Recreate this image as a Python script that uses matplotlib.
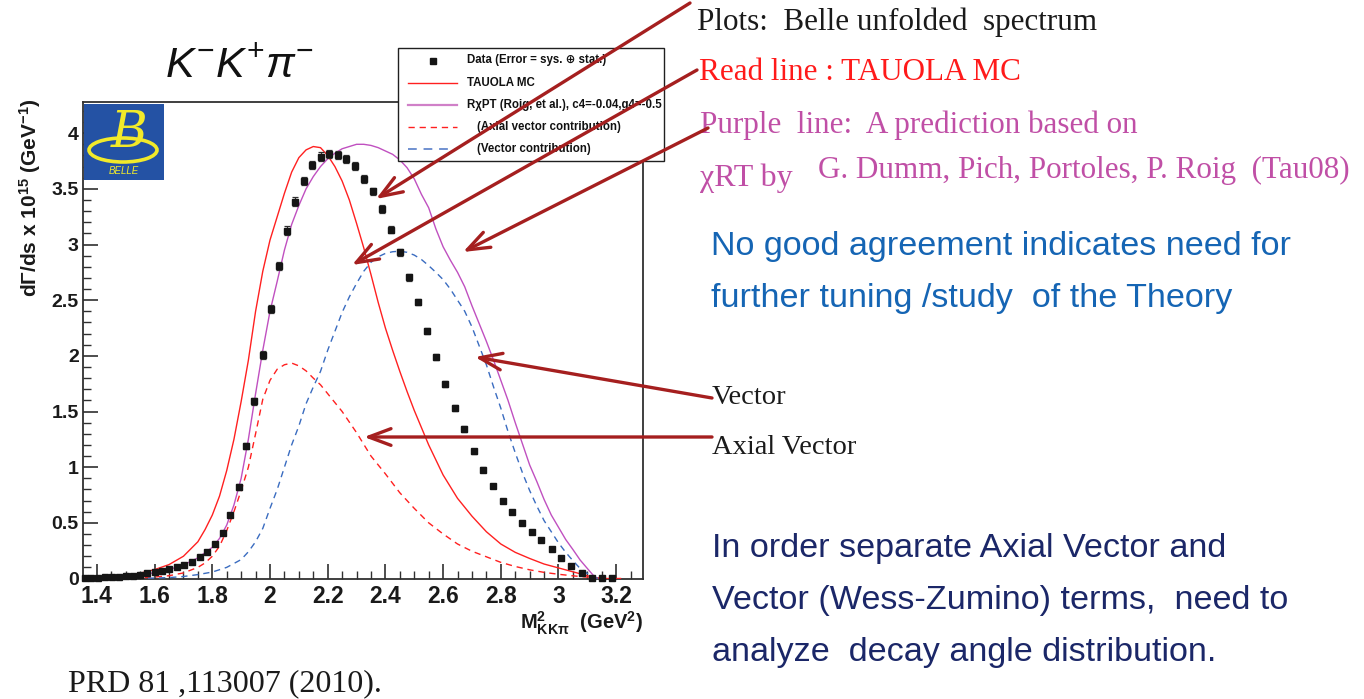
import numpy as np
import matplotlib
matplotlib.use("Agg")
import matplotlib.pyplot as plt
from matplotlib.lines import Line2D
from matplotlib.patches import Rectangle, Ellipse
from matplotlib.ticker import MultipleLocator, FuncFormatter

plt.rcParams['font.family'] = ['Liberation Sans', 'DejaVu Sans']
plt.rcParams['mathtext.fontset'] = 'custom'
plt.rcParams['mathtext.rm'] = 'Liberation Sans'
plt.rcParams['mathtext.it'] = 'Liberation Sans:italic'
plt.rcParams['mathtext.bf'] = 'Liberation Sans:bold'

# ---------------- data ----------------
data_x = [1.357, 1.381, 1.404, 1.428, 1.452, 1.476, 1.501, 1.525, 1.550, 1.575,
          1.600, 1.626, 1.651, 1.677, 1.703, 1.729, 1.756, 1.782, 1.809, 1.836,
          1.863, 1.891, 1.918, 1.946, 1.974, 2.002, 2.031, 2.059, 2.088, 2.117,
          2.146, 2.176, 2.205, 2.235, 2.265, 2.295, 2.326, 2.356, 2.387, 2.418,
          2.449, 2.481, 2.512, 2.544, 2.576, 2.608, 2.641, 2.673, 2.706, 2.739,
          2.772, 2.806, 2.839, 2.873, 2.907, 2.941, 2.976, 3.010, 3.045, 3.080,
          3.115, 3.151, 3.186]
data_y = [0.005, 0.008, 0.008, 0.010, 0.012, 0.015, 0.018, 0.025, 0.034, 0.046,
          0.056, 0.070, 0.082, 0.100, 0.125, 0.150, 0.190, 0.235, 0.308, 0.408,
          0.572, 0.820, 1.190, 1.590, 2.005, 2.425, 2.805, 3.125, 3.385, 3.572,
          3.712, 3.790, 3.815, 3.803, 3.768, 3.705, 3.588, 3.477, 3.321, 3.133,
          2.929, 2.704, 2.485, 2.225, 1.988, 1.746, 1.535, 1.344, 1.143, 0.978,
          0.829, 0.697, 0.598, 0.502, 0.418, 0.346, 0.268, 0.187, 0.115, 0.049,
          0.005, 0.002, 0.002]
data_err = [0.003, 0.003, 0.003, 0.003, 0.003, 0.003, 0.004, 0.004, 0.005, 0.005,
            0.006, 0.006, 0.007, 0.008, 0.009, 0.010, 0.011, 0.012, 0.014, 0.016,
            0.020, 0.025, 0.030, 0.032, 0.035, 0.036, 0.037, 0.038, 0.038, 0.038,
            0.038, 0.038, 0.038, 0.038, 0.038, 0.037, 0.036, 0.035, 0.034, 0.033,
            0.032, 0.031, 0.030, 0.029, 0.028, 0.027, 0.026, 0.025, 0.024, 0.022,
            0.020, 0.018, 0.016, 0.014, 0.012, 0.010, 0.009, 0.008, 0.006, 0.005,
            0.004, 0.003, 0.003]

tauola_x = [1.352, 1.40, 1.45, 1.50, 1.55, 1.60, 1.65, 1.70, 1.75, 1.775, 1.80, 1.825,
            1.85, 1.875, 1.90, 1.925, 1.95, 1.975, 2.00, 2.025, 2.05, 2.075, 2.10,
            2.125, 2.15, 2.175, 2.20, 2.225, 2.25, 2.275, 2.30, 2.325, 2.35, 2.375,
            2.40, 2.425, 2.45, 2.475, 2.50, 2.55, 2.60, 2.65, 2.70, 2.75, 2.80,
            2.85, 2.90, 2.95, 3.00, 3.05, 3.10, 3.13, 3.16, 3.215]
tauola_y = [0.004, 0.008, 0.015, 0.028, 0.048, 0.080, 0.125, 0.200, 0.330, 0.440, 0.570, 0.740,
            0.970, 1.250, 1.590, 1.960, 2.400, 2.760, 3.040, 3.250, 3.460, 3.650, 3.780,
            3.850, 3.880, 3.870, 3.800, 3.700, 3.570, 3.400, 3.190, 2.970, 2.730, 2.480,
            2.250, 2.050, 1.860, 1.680, 1.510, 1.200, 0.930, 0.720, 0.560, 0.420, 0.310,
            0.235, 0.180, 0.130, 0.095, 0.060, 0.025, 0.006, 0.0, 0.0]

rxpt_x = [1.352, 1.40, 1.45, 1.50, 1.55, 1.60, 1.65, 1.70, 1.75, 1.80, 1.825, 1.85,
          1.875, 1.90, 1.925, 1.95, 1.975, 2.00, 2.025, 2.05, 2.075, 2.10, 2.125,
          2.15, 2.175, 2.20, 2.225, 2.25, 2.275, 2.30, 2.325, 2.35, 2.375, 2.40,
          2.425, 2.45, 2.475, 2.50, 2.525, 2.55, 2.575, 2.60, 2.625, 2.65, 2.675,
          2.70, 2.725, 2.75, 2.775, 2.80, 2.825, 2.85, 2.875, 2.90, 2.925, 2.95,
          2.975, 3.00, 3.025, 3.05, 3.075, 3.10, 3.12, 3.135]
rxpt_y = [0.003, 0.006, 0.011, 0.019, 0.032, 0.052, 0.080, 0.122, 0.185, 0.280, 0.360, 0.480,
          0.660, 0.900, 1.250, 1.660, 2.050, 2.400, 2.670, 2.950, 3.180, 3.350, 3.500,
          3.610, 3.700, 3.770, 3.820, 3.860, 3.880, 3.900, 3.900, 3.890, 3.870, 3.840,
          3.810, 3.760, 3.690, 3.590, 3.450, 3.330, 3.140, 2.980, 2.860, 2.750, 2.620,
          2.450, 2.290, 2.130, 1.960, 1.780, 1.600, 1.400, 1.210, 1.020, 0.870, 0.710,
          0.570, 0.460, 0.350, 0.260, 0.166, 0.090, 0.030, 0.0]

axial_x = [1.45, 1.55, 1.60, 1.65, 1.70, 1.75, 1.775, 1.80, 1.825, 1.85, 1.875, 1.90,
           1.925, 1.95, 1.975, 2.00, 2.025, 2.05, 2.075, 2.10, 2.125, 2.15, 2.175,
           2.20, 2.25, 2.30, 2.35, 2.40, 2.45, 2.50, 2.55, 2.60, 2.65, 2.70, 2.75,
           2.80, 2.85, 2.90, 2.95, 3.00, 3.05, 3.10, 3.15]
axial_y = [0.0, 0.006, 0.013, 0.025, 0.050, 0.100, 0.140, 0.200, 0.290, 0.430, 0.600, 0.790,
           1.000, 1.300, 1.610, 1.780, 1.880, 1.920, 1.935, 1.910, 1.865, 1.800, 1.740,
           1.660, 1.500, 1.310, 1.100, 0.940, 0.770, 0.630, 0.500, 0.400, 0.310, 0.245, 0.195,
           0.145, 0.108, 0.078, 0.055, 0.038, 0.024, 0.012, 0.002]

vector_x = [1.50, 1.60, 1.65, 1.70, 1.75, 1.80, 1.85, 1.90, 1.925, 1.95, 1.975, 2.00,
            2.025, 2.05, 2.075, 2.10, 2.125, 2.15, 2.175, 2.20, 2.225, 2.25, 2.275,
            2.30, 2.325, 2.35, 2.375, 2.40, 2.425, 2.45, 2.475, 2.50, 2.525, 2.55,
            2.575, 2.60, 2.625, 2.65, 2.675, 2.70, 2.725, 2.75, 2.775, 2.80, 2.825,
            2.85, 2.875, 2.90, 2.925, 2.95, 2.975, 3.00, 3.025, 3.05, 3.075, 3.10,
            3.125, 3.14]
vector_y = [0.0, 0.004, 0.008, 0.018, 0.035, 0.058, 0.100, 0.170, 0.240, 0.330, 0.450, 0.630,
            0.800, 1.000, 1.200, 1.370, 1.570, 1.720, 1.860, 2.050, 2.220, 2.390, 2.530,
            2.650, 2.760, 2.840, 2.890, 2.920, 2.935, 2.940, 2.930, 2.905, 2.865, 2.810,
            2.750, 2.685, 2.600, 2.500, 2.400, 2.260, 2.090, 1.920, 1.720, 1.530, 1.320,
            1.130, 0.950, 0.790, 0.650, 0.520, 0.420, 0.320, 0.235, 0.160, 0.090, 0.045,
            0.010, 0.0]

legend_labels = ["Data (Error = sys. \u2295 stat.)", "TAUOLA MC",
                 "R\u03c7PT (Roig, et al.), c4=-0.04,g4=-0.5",
                 "(Axial vector contribution)", "(Vector contribution)"]

# ---------------- figure ----------------
W, H = 1364, 699
fig = plt.figure(figsize=(W / 100, H / 100), dpi=100)
fig.patch.set_facecolor('white')

def fx(px):
    return px / W

def fy(py):
    return 1 - py / H

L, R, T, B = 83, 643, 102, 578.5
ax = fig.add_axes([fx(L), fy(B), (R - L) / W, (B - T) / H])
ax.set_xlim(1.3518, 3.2929)
ax.set_ylim(0, 4.28)

RED = '#ff2020'
PURP = '#c050c0'
BLUE = '#3a6cc0'

ax.plot(tauola_x, tauola_y, color=RED, lw=1.0, zorder=3)
ax.plot(rxpt_x, rxpt_y, color=PURP, lw=1.0, zorder=3)
ax.plot(axial_x, axial_y, color=RED, lw=1.0, dashes=(4.5, 3.5), zorder=3)
ax.plot(vector_x, vector_y, color=BLUE, lw=1.0, dashes=(4.5, 3.5), zorder=3)
eb = ax.errorbar(data_x, data_y, yerr=data_err, fmt='s', color='#151515', ms=5,
                 ecolor='#303030', elinewidth=0.9, capsize=2, capthick=0.9,
                 zorder=4, clip_on=False)
for art in eb.lines[1] + eb.lines[2]:
    art.set_clip_on(False)

for s in ax.spines.values():
    s.set_color('#303030')
    s.set_linewidth(1.3)

ax.xaxis.set_major_locator(MultipleLocator(0.2))
ax.xaxis.set_minor_locator(MultipleLocator(0.05))
ax.yaxis.set_major_locator(MultipleLocator(0.5))
ax.yaxis.set_minor_locator(MultipleLocator(0.1))
fmt = FuncFormatter(lambda v, p: ('%g' % round(v, 2)))
ax.xaxis.set_major_formatter(fmt)
ax.yaxis.set_major_formatter(fmt)
ax.tick_params(which='both', direction='in', top=False, right=False, color='#303030')
ax.tick_params(which='major', length=11, width=1.2)
ax.tick_params(which='minor', length=5.5, width=1.0)
ax.tick_params(axis='x', which='major', labelsize=16.5, pad=5)
ax.tick_params(axis='y', which='major', labelsize=14, pad=3)
for lab in ax.get_xticklabels() + ax.get_yticklabels():
    lab.set_fontweight('bold')
    lab.set_color('#1a1a1a')

# ---------------- overlay in pixel coordinates ----------------
ov = fig.add_axes([0, 0, 1, 1], zorder=10)
ov.set_xlim(0, W)
ov.set_ylim(H, 0)
ov.axis('off')
ov.patch.set_alpha(0)

# title
ov.text(240, 66, r'$K^{-}K^{+}\pi^{-}$', fontsize=31, ha='center', va='center', color='#111111')

# axis labels
ov.text(30, 198, r'd$\mathbf{\Gamma}$/ds x 10$^{\mathbf{15}}$ (GeV$^{\mathbf{-1}}$)',
        rotation=90, fontsize=15, fontweight='bold', ha='center', va='center', color='#1a1a1a')
ov.text(643, 623, r'$\mathbf{M^{2}_{KK\pi}}$  (GeV$^{\mathbf{2}}$)', fontsize=14.5,
        fontweight='bold', ha='right', va='center', color='#1a1a1a')

# Belle logo
ov.add_patch(Rectangle((84, 104), 80, 76, facecolor='#2452a4', edgecolor='none', zorder=1))
YEL = '#f2ea2a'
ov.add_patch(Ellipse((123, 150), 68, 24, fill=False, edgecolor=YEL, lw=2.6, zorder=2))
ov.text(129, 133, 'B', fontsize=36, fontstyle='italic', family='DejaVu Serif',
        color=YEL, ha='center', va='center', zorder=3)
ov.text(124, 171, 'BELLE', fontsize=7, fontstyle='italic', color=YEL, ha='center',
        va='center', zorder=3)

# legend box
ov.add_patch(Rectangle((398, 48), 266, 113, facecolor='white', edgecolor='#202020', lw=1.0, zorder=1))
ly = [60.5, 83, 105, 127, 149]
ov.plot([433], [ly[0]], 's', color='#151515', ms=4.5, zorder=2)
ov.plot([408, 457], [ly[1], ly[1]], color=RED, lw=1.0, zorder=2)
ov.plot([408, 457], [ly[2], ly[2]], color='#d080c8', lw=1.6, zorder=2)
ov.plot([408, 457], [ly[3], ly[3]], color=RED, lw=1.0, dashes=(4.5, 3.5), zorder=2)
ov.plot([408, 457], [ly[4], ly[4]], color='#7090d0', lw=1.4, dashes=(4.5, 3.5), zorder=2)
lx = [467, 467, 467, 477, 477]
for x0, y0, t in zip(lx, ly, legend_labels):
    ov.text(x0, y0, t, fontsize=8.3, fontweight='bold', ha='left', va='center',
            color='#111111', zorder=3)

# slide annotations
SERIF = ['Liberation Serif', 'DejaVu Serif']
ov.text(697, 22, 'Plots:  Belle unfolded  spectrum', fontsize=22.4, family=SERIF,
        color='#1a1a1a', ha='left', va='center')
ov.text(699, 73, 'Read line : TAUOLA MC', fontsize=22.4, family=SERIF,
        color='#ff1a1a', ha='left', va='center')
PTXT = '#c04fa6'
ov.text(700, 125, 'Purple  line:  A prediction based on', fontsize=22.4, family=SERIF,
        color=PTXT, ha='left', va='center')
ov.text(700, 178, '\u03c7RT by', fontsize=23, family=SERIF, color=PTXT, ha='left', va='center')
ov.text(818, 170, 'G. Dumm, Pich, Portoles, P. Roig  (Tau08)', fontsize=22.4, family=SERIF,
        color=PTXT, ha='left', va='center')

BL = '#1565b4'
ov.text(711, 247, 'No good agreement indicates need for', fontsize=24.6, color=BL,
        ha='left', va='center')
ov.text(711, 299, 'further tuning /study  of the Theory', fontsize=24.6, color=BL,
        ha='left', va='center')

ov.text(712, 397, 'Vector', fontsize=20.5, family=SERIF, color='#1a1a1a', ha='left', va='center')
ov.text(712, 447, 'Axial Vector', fontsize=20.5, family=SERIF, color='#1a1a1a', ha='left', va='center')

NV = '#1b2768'
ov.text(712, 549, 'In order separate Axial Vector and', fontsize=24.6, color=NV, ha='left', va='center')
ov.text(712, 601, 'Vector (Wess-Zumino) terms,  need to', fontsize=24.6, color=NV, ha='left', va='center')
ov.text(712, 653, 'analyze  decay angle distribution.', fontsize=24.6, color=NV, ha='left', va='center')

ov.text(68, 684, 'PRD 81 ,113007 (2010).', fontsize=23, family=SERIF, color='#1a1a1a',
        ha='left', va='center')

# arrows
ARC = '#a51f1f'
arrows = [((690, 3), (376, 199)),
          ((697, 70), (352, 265)),
          ((708, 128), (463, 252)),
          ((712, 398), (475, 357)),
          ((712, 437), (364, 437))]
for (sx, sy), (ex, ey) in arrows:
    ov.annotate('', xy=(ex, ey), xytext=(sx, sy),
                arrowprops=dict(arrowstyle='->,head_length=1.6,head_width=0.6',
                                color=ARC, lw=2.4, shrinkA=0, shrinkB=0),
                zorder=5)

fig.savefig('out.png', dpi=100, facecolor='white')
